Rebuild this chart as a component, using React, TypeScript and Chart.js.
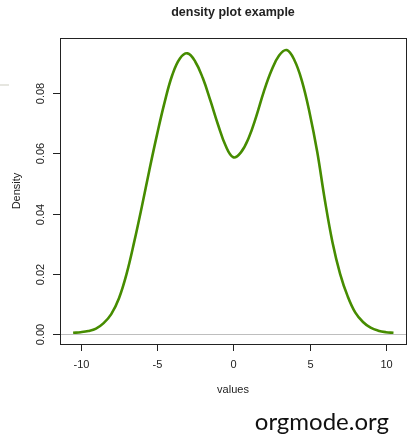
import React, { useEffect, useRef } from "react";
import { Chart, registerables } from "chart.js";

Chart.register(...registerables);

const titleText = "density plot example";
const xLabel = "values";
const yLabel = "Density";
const watermark = "orgmode.org";

const xValues = [
  -10.5, -10, -9.5, -9, -8.5, -8, -7.5, -7, -6.5, -6, -5.5, -5, -4.5, -4, -3.5, -3,
  -2.5, -2, -1.5, -1, -0.5, 0, 0.5, 1, 1.5, 2, 2.5, 3, 3.5, 4, 4.5, 5, 5.5, 6, 6.5,
  7, 7.5, 8, 8.5, 9, 9.5, 10, 10.5,
];
const densityValues = [
  0.0004, 0.0006, 0.001, 0.0018, 0.0036, 0.0066, 0.0118, 0.0199, 0.0305, 0.0422,
  0.0545, 0.0662, 0.077, 0.086, 0.0915, 0.0932, 0.0905, 0.085, 0.0775, 0.0695,
  0.0625, 0.0587, 0.0603, 0.065, 0.0722, 0.0805, 0.0875, 0.0925, 0.0943, 0.091,
  0.084, 0.0735, 0.0605, 0.0445, 0.0305, 0.02, 0.0125, 0.0071, 0.004, 0.0021,
  0.0011, 0.0006, 0.0004,
];
const xTicks = [-10, -5, 0, 5, 10];
const yTicks = [0, 0.02, 0.04, 0.06, 0.08];
const yTickLabels = ["0.00", "0.02", "0.04", "0.06", "0.08"];

const LINE_COLOR = "#468c00";
const FONT = "'Liberation Sans', Arial, sans-serif";

const decorPlugin = {
  id: "rDecor",
  beforeDatasetsDraw(chart: any) {
    const { ctx, chartArea, scales } = chart;
    const y0 = Math.round(scales.y.getPixelForValue(0)) + 0.5;
    ctx.save();
    ctx.strokeStyle = "#bebebe";
    ctx.lineWidth = 1;
    ctx.beginPath();
    ctx.moveTo(chartArea.left, y0);
    ctx.lineTo(chartArea.right, y0);
    ctx.stroke();
    ctx.restore();
  },
  afterDraw(chart: any) {
    const { ctx, chartArea, scales } = chart;
    const { left, right, top, bottom } = chartArea;
    ctx.save();
    // box
    ctx.strokeStyle = "#222";
    ctx.lineWidth = 1;
    ctx.strokeRect(left + 0.5, top + 0.5, right - left, bottom - top);
    // x ticks
    ctx.fillStyle = "#222";
    ctx.font = `11px ${FONT}`;
    ctx.textAlign = "center";
    ctx.textBaseline = "middle";
    xTicks.forEach((t) => {
      const px = Math.round(scales.x.getPixelForValue(t)) + 0.5;
      ctx.beginPath();
      ctx.moveTo(px, bottom);
      ctx.lineTo(px, bottom + 7);
      ctx.stroke();
      ctx.fillText(String(t), px, bottom + 21);
    });
    // y ticks
    yTicks.forEach((t, i) => {
      const py = Math.round(scales.y.getPixelForValue(t)) + 0.5;
      ctx.beginPath();
      ctx.moveTo(left - 7, py);
      ctx.lineTo(left, py);
      ctx.stroke();
      ctx.save();
      ctx.translate(left - 19, py);
      ctx.rotate(-Math.PI / 2);
      ctx.fillText(yTickLabels[i], 0, 0);
      ctx.restore();
    });
    const cx = (left + right) / 2;
    const cy = (top + bottom) / 2;
    // axis titles
    ctx.fillText(xLabel, cx, bottom + 46);
    ctx.save();
    ctx.translate(17, cy);
    ctx.rotate(-Math.PI / 2);
    ctx.fillText(yLabel, 0, 0);
    ctx.restore();
    // main title
    ctx.font = `bold 12.5px ${FONT}`;
    ctx.fillText(titleText, cx, 13);
    // watermark
    ctx.font = `24px Lato, 'Noto Sans', sans-serif`;
    ctx.fillStyle = "#111";
    ctx.textAlign = "right";
    ctx.textBaseline = "alphabetic";
    ctx.fillText(watermark, 389, 430);
    // faint mark at left
    ctx.strokeStyle = "#e6e6e0";
    ctx.lineWidth = 2;
    ctx.beginPath();
    ctx.moveTo(0, 85);
    ctx.lineTo(9, 85);
    ctx.stroke();
    ctx.restore();
  },
};

export default function App() {
  const ref = useRef<HTMLCanvasElement | null>(null);
  useEffect(() => {
    if (!ref.current) return;
    const chart = new Chart(ref.current, {
      type: "line",
      data: {
        datasets: [
          {
            data: xValues.map((x, i) => ({ x, y: densityValues[i] })),
            borderColor: LINE_COLOR,
            borderWidth: 2.6,
            pointRadius: 0,
            tension: 0.4,
            fill: false,
          },
        ],
      },
      options: {
        animation: false,
        responsive: false,
        maintainAspectRatio: false,
        layout: { padding: { left: 60, right: 3, top: 38, bottom: 91 } },
        plugins: { legend: { display: false }, tooltip: { enabled: false }, title: { display: false } },
        scales: {
          x: { type: "linear", min: -11.36, max: 11.32, display: false },
          y: { type: "linear", min: -0.00332, max: 0.0983, display: false },
        },
      },
      plugins: [decorPlugin],
    } as any);
    return () => chart.destroy();
  }, []);
  return (
    <div style={{ position: "fixed", left: 0, top: 0, width: 409, height: 435, background: "#fff" }}>
      <canvas ref={ref} width={409} height={435} style={{ width: 409, height: 435, display: "block" }} />
    </div>
  );
}
